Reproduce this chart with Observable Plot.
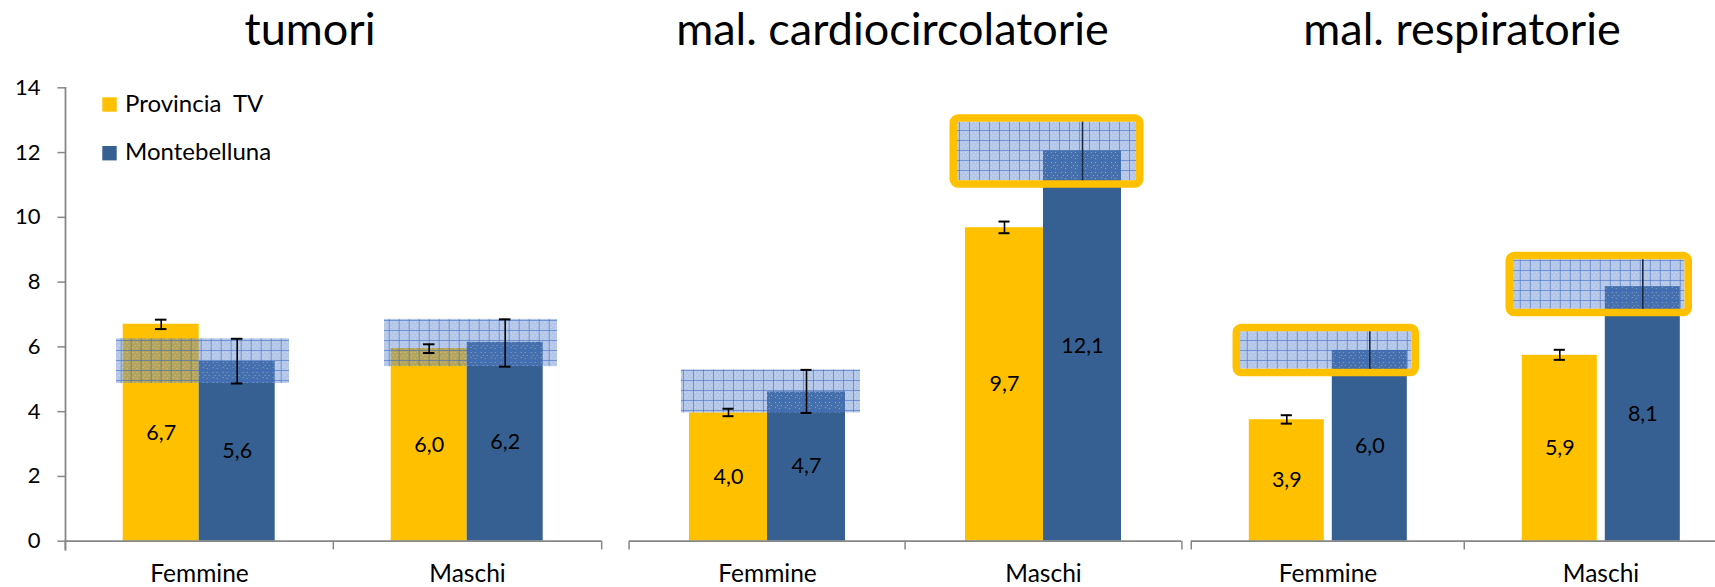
<!DOCTYPE html>
<html>
<head>
<meta charset="utf-8">
<script src="https://cdn.jsdelivr.net/npm/d3@7"></script>
<script src="https://cdn.jsdelivr.net/npm/@observablehq/plot@0.6"></script>
<style>
html, body { margin: 0; padding: 0; background: #fff; overflow: hidden; }
#chart { position: relative; width: 1715px; height: 587px; overflow: hidden; font-family: Lato, sans-serif; }
#chart > svg { position: absolute; top: 0; }
</style>
</head>
<body>
<svg width="0" height="0" style="position:absolute">
  <defs>
    <pattern id="ci-grid" patternUnits="userSpaceOnUse" width="10" height="10">
      <rect width="10" height="10" fill="rgb(88,130,205)" fill-opacity="0.45"></rect>
      <path d="M2 2h1v1h-1zM6 2h1v1h-1zM4 5h1v1h-1zM8 5h1v1h-1zM2 7h1v1h-1zM6 8h1v1h-1z" fill="#ffffff" fill-opacity="0.35"></path>
      <path d="M0 0.5H10M0.5 0V10" stroke="rgb(60,105,195)" stroke-opacity="0.55" stroke-width="1"></path>
    </pattern>
  </defs>
</svg>
<div id="chart"></div>
<script>
// ---------------- data ----------------
const panels = ["tumori", "mal. cardiocircolatorie", "mal. respiratorie"];
const sexes = ["Femmine", "Maschi"];
const series = ["Provincia  TV", "Montebelluna"];
const yTicks = [0, 2, 4, 6, 8, 10, 12, 14];

// per panel: [Femmine, Maschi]
const provRate   = [[6.70, 5.95], [3.96, 9.68], [3.75, 5.74]];
const provLabel  = [["6,7", "6,0"], ["4,0", "9,7"], ["3,9", "5,9"]];
const provLow    = [[6.55, 5.81], [3.86, 9.51], [3.63, 5.60]];
const provHigh   = [[6.84, 6.08], [4.09, 9.87], [3.89, 5.91]];

const monteRate  = [[5.55, 6.14], [4.61, 12.05], [5.89, 7.86]];
const monteLabel = [["5,6", "6,2"], ["4,7", "12,1"], ["6,0", "8,1"]];
const monteLow   = [[4.87, 5.39], [3.96, 11.13], [5.31, 7.16]];
const monteHigh  = [[6.25, 6.85], [5.29, 12.94], [6.47, 8.69]];
const monteSignificant = [[false, false], [false, true], [true, true]];

// ---------------- styles / layout ----------------
const YELLOW = "#FFC000", BLUE = "#366092", AXIS = "#878787";
const layout = [
  {left: 0,    width: 612, marginLeft: 64.3, marginRight: 11,  paddingInner: 0,     paddingOuter: 0.754, box: [51, 44],  title: 310},
  {left: 612,  width: 574, marginLeft: 16,   marginRight: 4.3, paddingInner: 0,     paddingOuter: 0.752, box: [52, 45],  title: 892.5},
  {left: 1186, width: 560, marginLeft: 4.2,  marginRight: 8.8, paddingInner: 0.092, paddingOuter: 0.683, box: [49, 52.5], title: 1462}
];
const H = 587, MT = 87.3, MB = 46.3;

const chart = document.getElementById("chart");

panels.forEach((panel, p) => {
  const L = layout[p];
  const rows = [];
  sexes.forEach((sex, s) => {
    rows.push({sex, series: series[0], value: provRate[p][s], label: provLabel[p][s], lo: provLow[p][s], hi: provHigh[p][s], sig: false, caps: true});
    rows.push({sex, series: series[1], value: monteRate[p][s], label: monteLabel[p][s], lo: monteLow[p][s], hi: monteHigh[p][s], sig: monteSignificant[p][s], caps: !monteSignificant[p][s]});
  });
  const monte = rows.filter(d => d.series === series[1]);
  const sig = monte.filter(d => d.sig);
  const capped = rows.filter(d => d.caps);

  const facetW = (L.width - L.marginLeft - L.marginRight) / 2;
  const step = facetW / (2 - L.paddingInner + 2 * L.paddingOuter);
  const barW = step * (1 - L.paddingInner);
  const capInset = (barW - 12) / 2;

  const marks = [
    Plot.barY(rows, {fx: "sex", x: "series", y: "value", fill: "series"}),
    Plot.rect(monte, {fx: "sex", y1: "lo", y2: "hi", fill: "url(#ci-grid)", insetLeft: L.box[0], insetRight: L.box[1]}),
    Plot.rect(sig, {fx: "sex", y1: "lo", y2: "hi", fill: "none", stroke: YELLOW, strokeWidth: 7.5, rx: 5,
      insetLeft: L.box[0] - 3.75, insetRight: L.box[1] - 3.75, insetTop: -3.75, insetBottom: -3.75}),
    Plot.ruleX(rows, {fx: "sex", x: "series", y1: "lo", y2: "hi", stroke: d => d.sig ? "#1c2a40" : "#000", strokeWidth: 1.6}),
    Plot.tickY(capped, {fx: "sex", x: "series", y: "lo", stroke: "#000", strokeWidth: 2, insetLeft: capInset, insetRight: capInset}),
    Plot.tickY(capped, {fx: "sex", x: "series", y: "hi", stroke: "#000", strokeWidth: 2, insetLeft: capInset, insetRight: capInset}),
    Plot.text(rows, {fx: "sex", x: "series", y: d => d.value / 2, text: "label", fontSize: 21.5, fill: "#000"}),
    Plot.ruleY([0], {stroke: AXIS, strokeWidth: 1.8}),
    Plot.axisFx({anchor: "bottom", tickSize: 0, tickPadding: 22.9, fontSize: 24.5, label: null, fill: "#000"}),
    Plot.axisFx({anchor: "bottom", tickSize: 8.7, tickFormat: () => "", label: null, stroke: AXIS, strokeWidth: 1.5, dx: -facetW / 2}),
    Plot.axisFx({anchor: "bottom", ticks: [sexes[1]], tickSize: 8.7, tickFormat: () => "", label: null, stroke: AXIS, strokeWidth: 1.5, dx: facetW / 2})
  ];
  if (p === 0) {
    marks.push(Plot.axisY({ticks: yTicks, tickSize: 7.6, tickPadding: 17.4, fontSize: 22, stroke: AXIS, strokeWidth: 1.5, fill: "#000", label: null}));
    marks.push(Plot.frame({anchor: "left", facet: "super", insetBottom: -8.7, stroke: AXIS, strokeWidth: 1.8}));
  }

  const svg = Plot.plot({
    width: L.width,
    height: H,
    marginTop: MT,
    marginBottom: MB,
    marginLeft: L.marginLeft,
    marginRight: L.marginRight,
    style: {fontFamily: "Lato, sans-serif", fontSize: "20px", background: "transparent", overflow: "visible", color: "#000"},
    fx: {domain: sexes, padding: 0, axis: null},
    x: {domain: series, paddingInner: L.paddingInner, paddingOuter: L.paddingOuter, axis: null},
    y: {domain: [0, 14], axis: null},
    color: {domain: series, range: [YELLOW, BLUE]},
    marks
  });
  svg.style.left = L.left + "px";
  chart.appendChild(svg);
});

// ---------------- titles and legend ----------------
const overlay = d3.select(chart).append("svg")
  .attr("width", 1715).attr("height", H)
  .style("left", "0px").style("pointer-events", "none")
  .attr("font-family", "Lato, sans-serif");
overlay.selectAll("text.title").data(panels).join("text")
  .attr("class", "title")
  .attr("x", (d, i) => layout[i].title).attr("y", 45)
  .attr("text-anchor", "middle").attr("font-size", 45).attr("fill", "#000")
  .text(d => d);
const lg = overlay.selectAll("g.lg").data(series).join("g")
  .attr("class", "lg")
  .attr("transform", (d, i) => `translate(102.3, ${97.3 + i * 48.7})`);
lg.append("rect").attr("width", 14.4).attr("height", 14.4).attr("fill", (d, i) => [YELLOW, BLUE][i]);
lg.append("text").attr("x", 22.7).attr("y", 14.4).attr("font-size", 24).attr("fill", "#000")
  .attr("xml:space", "preserve").style("white-space", "pre").text(d => d);
</script>
</body>
</html>
